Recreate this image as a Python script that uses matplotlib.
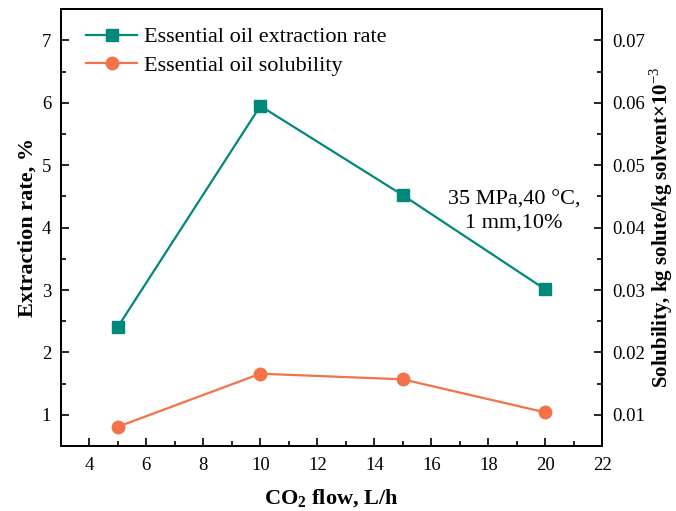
import matplotlib
matplotlib.use("Agg")
import matplotlib.pyplot as plt
from matplotlib.ticker import MultipleLocator, AutoMinorLocator

plt.rcParams["font.family"] = "Liberation Serif"
plt.rcParams["mathtext.fontset"] = "custom"
plt.rcParams["mathtext.rm"] = "Liberation Serif"
plt.rcParams["mathtext.bf"] = "Liberation Serif:bold"

# Datos
caudal = [5, 10, 15, 20]
rendimiento = [2.41, 5.95, 4.52, 3.01]
solubilidad = [0.0081, 0.0166, 0.0157, 0.0104]

verde = "#00897A"
naranja = "#F47248"

fig = plt.figure(figsize=(6.76, 5.11), dpi=100)
ax = fig.add_axes([0.090, 0.127, 0.801, 0.855])
ax2 = ax.twinx()

l1, = ax.plot(caudal, rendimiento, color=verde, lw=1.6, marker="s", ms=8,
              label="Essential oil extraction rate")
l2, = ax2.plot(caudal, solubilidad, color=naranja, lw=1.6, marker="o", ms=9,
               label="Essential oil solubility")

ax.set_xlim(3, 22)
ax.set_ylim(0.5, 7.5)
ax2.set_ylim(0.005, 0.075)
ax.xaxis.set_major_locator(MultipleLocator(2))
ax.xaxis.set_minor_locator(AutoMinorLocator(2))
ax.yaxis.set_major_locator(MultipleLocator(1))
ax.yaxis.set_minor_locator(AutoMinorLocator(2))
ax2.yaxis.set_major_locator(MultipleLocator(0.01))
ax2.yaxis.set_minor_locator(AutoMinorLocator(2))

for a in (ax, ax2):
    a.tick_params(which="major", direction="in", length=6, width=1.2,
                  labelsize=13.5, pad=7)
    a.tick_params(which="minor", direction="in", length=3.5, width=1.2)
    for s in a.spines.values():
        s.set_linewidth(1.4)
ax.tick_params(axis="x", pad=8)

ax.set_xlabel("CO$_\\mathbf{2}$ flow, L/h", fontsize=16, fontweight="bold", labelpad=10)
ax.set_ylabel("Extraction rate, %", fontsize=16, fontweight="bold", labelpad=3)
ax2.set_ylabel("Solubility, kg solute/kg solvent\u00d710$^{-3}$", fontsize=15,
               fontweight="bold", labelpad=2)

ax.text(18.9, 4.26, "35 MPa,40 \u00b0C,\n1 mm,10%", fontsize=16, ha="center",
        va="center", linespacing=1.25)

ax.legend(handles=[l1, l2], loc="upper left", frameon=False, fontsize=16,
          handlelength=2.3, handletextpad=0.3, labelspacing=0.35,
          borderaxespad=0.3, bbox_to_anchor=(0.018, 0.995))

plt.savefig("out.png", dpi=100)
